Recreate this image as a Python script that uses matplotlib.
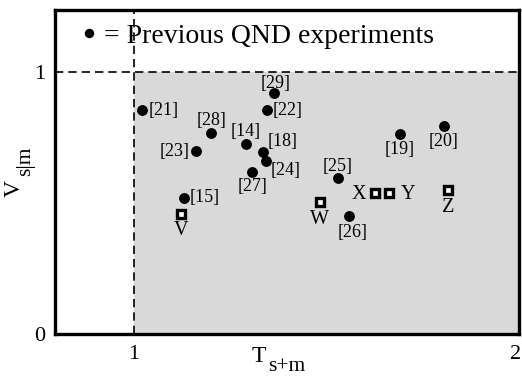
import matplotlib
matplotlib.use("Agg")
import matplotlib.pyplot as plt
from matplotlib.patches import Rectangle
from matplotlib.transforms import ScaledTranslation

plt.rcParams['font.family'] = ['Liberation Serif', 'DejaVu Serif']

# Previous QND experiments (dots)
prev_labels = ['[14]', '[15]', '[18]', '[19]', '[20]', '[21]', '[22]',
               '[23]', '[24]', '[25]', '[26]', '[27]', '[28]', '[29]']
prev_x = [1.291, 1.131, 1.335, 1.690, 1.804, 1.020, 1.345,
          1.161, 1.342, 1.529, 1.558, 1.307, 1.201, 1.365]
prev_y = [0.724, 0.520, 0.693, 0.763, 0.794, 0.855, 0.856,
          0.698, 0.659, 0.594, 0.450, 0.618, 0.768, 0.919]

# This work (squares)
new_labels = ['V', 'W', 'X', 'Y', 'Z']
new_x = [1.122, 1.482, 1.625, 1.663, 1.815]
new_y = [0.459, 0.504, 0.539, 0.539, 0.550]

xticks = [1, 2]
yticks = [0, 1]

# label placement (offset in points, ha, va)
prev_off = {
    '[14]': ((0, 9), 'center', 'center'),
    '[15]': ((4, 0), 'left', 'center'),
    '[18]': ((3.5, 8), 'left', 'center'),
    '[19]': ((0, -11), 'center', 'center'),
    '[20]': ((0, -11.3), 'center', 'center'),
    '[21]': ((5, 0), 'left', 'center'),
    '[22]': ((4, -0.5), 'left', 'center'),
    '[23]': ((-4.3, 0), 'right', 'center'),
    '[24]': ((3.4, -6.8), 'left', 'center'),
    '[25]': ((0, 8.9), 'center', 'center'),
    '[26]': ((2.5, -11.6), 'center', 'center'),
    '[27]': ((0, -10), 'center', 'center'),
    '[28]': ((0, 9.2), 'center', 'center'),
    '[29]': ((1, 7.3), 'center', 'center'),
}
new_off = {
    'V': ((0, -11.8), 'center', 'center'),
    'W': ((0, -12.4), 'center', 'center'),
    'X': ((-6, -1), 'right', 'center'),
    'Y': ((8, -1), 'left', 'center'),
    'Z': ((0, -12.7), 'center', 'center'),
}

fig = plt.figure(figsize=(5.22, 3.76), dpi=100)
ax = fig.add_axes([55/522, 42/376, 464/522, 324/376])
ax.set_xlim(0.795, 2.0)
ax.set_ylim(0, 1.237)

ax.add_patch(Rectangle((1, 0), 1.5, 1, facecolor='#d9d9d9', edgecolor='none', zorder=0))
ax.axvline(1, color='black', lw=1.2, ls=(0, (5, 3)), zorder=1)
ax.axhline(1, color='black', lw=1.2, ls=(0, (5, 3)), zorder=1)

dots = ax.plot(prev_x, prev_y, 'o', color='black', ms=6.8, ls='none', zorder=3)[0]
ax.plot(new_x, new_y, 's', mfc='white', mec='black', mew=2.4, ms=6.0, ls='none', zorder=3)

for lab, x, y in zip(prev_labels, prev_x, prev_y):
    off, ha, va = prev_off[lab]
    ax.annotate(lab, (x, y), xytext=off, textcoords='offset points',
                ha=ha, va=va, fontsize=13, zorder=4)
for lab, x, y in zip(new_labels, new_x, new_y):
    off, ha, va = new_off[lab]
    ax.annotate(lab, (x, y), xytext=off, textcoords='offset points',
                ha=ha, va=va, fontsize=14.5, zorder=4)

leg = ax.legend([dots], ['= Previous QND experiments'], loc='upper left',
                bbox_to_anchor=(0.061, 0.958), frameon=False, fontsize=20,
                handlelength=0.4, handletextpad=0.35, borderpad=0.0,
                borderaxespad=0.0, markerscale=0.85)
leg.set_zorder(5)

ax.set_xticks(xticks)
ax.set_xticklabels([str(t) for t in xticks])
ax.set_yticks(yticks)
ax.set_yticklabels([str(t) for t in yticks])
ax.tick_params(length=0, labelsize=16)
ax.tick_params(axis='x', pad=8)
ax.tick_params(axis='y', pad=7)
last = ax.get_xticklabels()[-1]
last.set_transform(last.get_transform() + ScaledTranslation(-3/100, 0, fig.dpi_scale_trans))
for s in ax.spines.values():
    s.set_linewidth(2.4)

# axis labels
fig.text(252/522, 1 - 362/376, 'T', fontsize=17, ha='left', va='baseline')
fig.text(268/522, 1 - 371/376, 's+m', fontsize=15.5, ha='left', va='baseline')
fig.text(25/522, 1 - 197/376, 'V', fontsize=17, ha='right', va='bottom', rotation=90)
fig.text(35/522, 1 - 176/376, 's|m', fontsize=15.5, ha='right', va='bottom', rotation=90)

fig.savefig('out.png', dpi=100)
